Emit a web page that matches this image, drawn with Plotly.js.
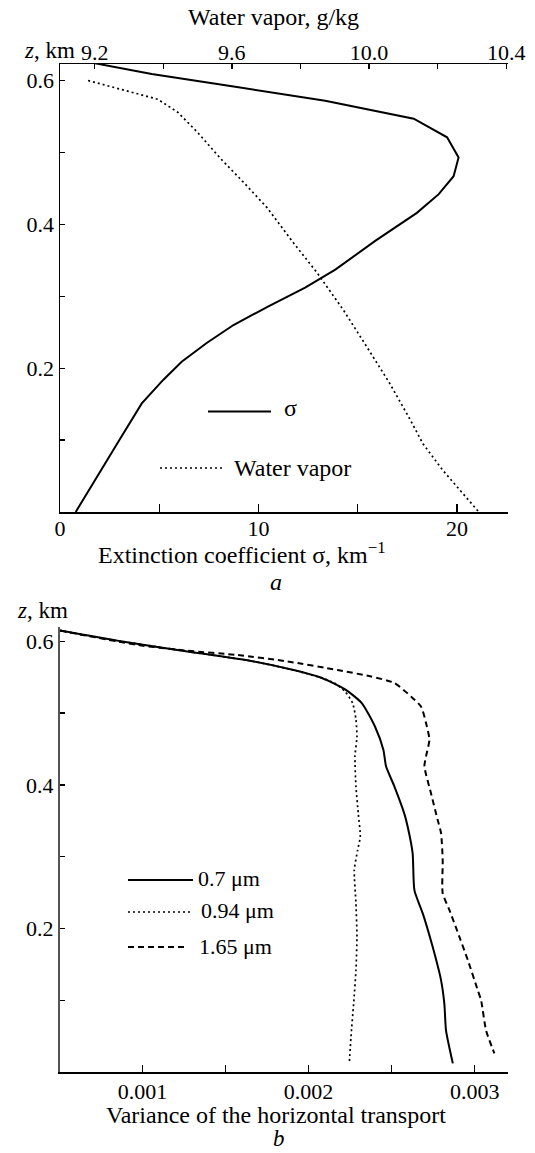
<!DOCTYPE html>
<html><head><meta charset="utf-8">
<script src="https://cdn.plot.ly/plotly-3.0.1.min.js"></script>
<style>html,body{margin:0;padding:0;background:#fff}</style>
</head><body><div id="chart" style="width:535px;height:1153px"></div>
<script>
// ---- panel a data ----
const sigmaVal = [0.79,1.93,3.03,4.12,5.21,6.13,7.39,8.74,10.50,12.35,13.87,15.88,17.98,19.08,19.83,20.08,19.50,17.82,13.36,8.91,6.13,4.62,1.2];
const sigmaZ   = [0,0.051,0.102,0.151,0.184,0.209,0.235,0.260,0.286,0.312,0.337,0.377,0.416,0.442,0.467,0.493,0.521,0.547,0.572,0.591,0.602,0.609,0.627];
const vaporVal = [9.181,9.278,9.384,9.442,9.50,9.568,9.635,9.703,9.78,9.848,9.925,9.993,10.06,10.118,10.157,10.215,10.273,10.32];
const vaporZ   = [0.6,0.588,0.574,0.556,0.528,0.491,0.458,0.423,0.374,0.333,0.281,0.230,0.179,0.130,0.095,0.058,0.026,0];
// ---- panel b data ----
const var07 = [0.000504,0.00087,0.00127,0.00167,0.00191,0.00208,0.00222,0.00232,0.0024,0.00245,0.002466,0.002516,0.002576,0.002596,0.002626,0.002637,0.002687,0.002747,0.002797,0.002817,0.002827,0.002868];
const z07   = [0.615,0.600,0.586,0.572,0.560,0.549,0.533,0.514,0.481,0.449,0.426,0.398,0.360,0.342,0.305,0.253,0.221,0.174,0.128,0.095,0.058,0.012];
const var094 = [0.000504,0.00087,0.00127,0.00167,0.00191,0.00208,0.002155,0.00222,0.002265,0.002285,0.002291,0.002279,0.002285,0.002299,0.002311,0.002295,0.002275,0.002285,0.002291,0.002285,0.002271,0.002255,0.002245];
const z094   = [0.615,0.600,0.586,0.572,0.560,0.549,0.542,0.530,0.514,0.491,0.467,0.440,0.398,0.360,0.328,0.309,0.281,0.235,0.188,0.142,0.095,0.049,0.012];
const var165 = [0.000504,0.00097,0.00127,0.001572,0.001873,0.002175,0.002376,0.002516,0.002617,0.002677,0.002707,0.002727,0.002707,0.002697,0.002737,0.002777,0.002797,0.002807,0.002807,0.002847,0.002908,0.002958,0.003018,0.003038,0.003068,0.003118];
const z165   = [0.615,0.595,0.587,0.581,0.572,0.560,0.551,0.542,0.523,0.509,0.486,0.463,0.440,0.426,0.388,0.351,0.333,0.295,0.249,0.226,0.188,0.156,0.114,0.100,0.058,0.026];
// ---- tick labels ----
const sigmaTicks = [0,10,20];
const vaporTicks = [9.2,9.6,10.0,10.4];
const vaporTickText = ['9.2','9.6','10.0','10.4'];
const zTicks = [0.2,0.4,0.6];
const zTickText = ['0.2','0.4','0.6'];
const varTicks = [0.001,0.002,0.003];
const varTickText = ['0.001','0.002','0.003'];
const legendA = ['σ','Water vapor'];
const legendB = ['0.7 μm','0.94 μm','1.65 μm'];

const FONT = "'Liberation Serif', 'Times New Roman', serif";
const W = 535, H = 1153;
const px = v => v / W;
const py = v => 1 - v / H;
const DOT = '2px,3px';
const DASH = '6px,4px';

const traces = [
  {x: sigmaVal, y: sigmaZ, xaxis:'x', yaxis:'y', mode:'lines', line:{color:'black', width:2}},
  {x: vaporVal, y: vaporZ, xaxis:'x2', yaxis:'y', mode:'lines', line:{color:'black', width:1.7, dash:DOT}},
  {x: var07, y: z07, xaxis:'x3', yaxis:'y3', mode:'lines', line:{color:'black', width:2, shape:'spline', smoothing:0.6}},
  {x: var094, y: z094, xaxis:'x3', yaxis:'y3', mode:'lines', line:{color:'black', width:1.7, dash:DOT, shape:'spline', smoothing:0.6}},
  {x: var165, y: z165, xaxis:'x3', yaxis:'y3', mode:'lines', line:{color:'black', width:2, dash:DASH, shape:'spline', smoothing:0.6}}
];

const tf = {family: FONT, size: 22, color: 'black'};
function ax(extra) {
  return Object.assign({
    showline: true, linecolor: 'black', linewidth: 1.5,
    showgrid: false, zeroline: false, ticks: 'inside', tickcolor: 'black', tickwidth: 1.3,
    tickfont: tf, tickmode: 'array', fixedrange: true
  }, extra);
}
const xdom = [px(60), px(508)];

const layout = {
  width: W, height: H, margin: {l:0, r:0, t:0, b:0},
  paper_bgcolor: 'white', plot_bgcolor: 'white', showlegend: false,
  font: {family: FONT, size: 22, color: 'black'},
  xaxis: ax({domain: xdom, anchor: 'y', range: [0, 22.57], tickvals: sigmaTicks, ticklen: 8,
    ticklabelstandoff: -4,
    minor: {tickmode:'array', tickvals: [5,15], ticks: 'inside', ticklen: 8, tickwidth: 1.3, tickcolor: 'black'}}),
  xaxis2: ax({overlaying: 'x', anchor: 'y', side: 'top', range: [9.099, 10.405], tickvals: vaporTicks, ticktext: vaporTickText, ticklen: 4.5,
    ticklabelstandoff: -6,
    minor: {tickmode:'array', tickvals: [9.4,9.8,10.2], ticks: 'inside', ticklen: 4.5, tickwidth: 1.3, tickcolor: 'black'}}),
  yaxis: ax({domain: [py(512), py(64)], anchor: 'x', range: [0, 0.623], tickvals: zTicks, ticktext: zTickText, ticklen: 4.5,
    minor: {tickmode:'array', tickvals: [0.1,0.3,0.5], ticks: 'inside', ticklen: 4.5, tickwidth: 1.3, tickcolor: 'black'}}),
  xaxis3: ax({domain: xdom, anchor: 'y3', range: [0.000504, 0.0032], tickvals: varTicks, ticktext: varTickText, ticklen: 7,
    ticklabelstandoff: -1,
    minor: {tickmode:'array', tickvals: [0.0015,0.0025], ticks: 'inside', ticklen: 7, tickwidth: 1.3, tickcolor: 'black'}}),
  yaxis3: ax({domain: [py(1072), py(627)], anchor: 'x3', range: [0, 0.62], tickvals: zTicks, ticktext: zTickText, ticklen: 4.5,
    linecolor: '#555', linewidth: 2,
    minor: {tickmode:'array', tickvals: [0.1,0.3,0.5], ticks: 'inside', ticklen: 4.5, tickwidth: 1.3, tickcolor: 'black'}}),
  shapes: [
    {type:'line', xref:'paper', yref:'paper', x0:px(208), x1:px(271), y0:py(411.5), y1:py(411.5), line:{color:'black', width:2}},
    {type:'line', xref:'paper', yref:'paper', x0:px(160), x1:px(222), y0:py(468), y1:py(468), line:{color:'black', width:1.7, dash:DOT}},
    {type:'line', xref:'paper', yref:'paper', x0:px(128), x1:px(193), y0:py(880), y1:py(880), line:{color:'black', width:2}},
    {type:'line', xref:'paper', yref:'paper', x0:px(128), x1:px(190), y0:py(912), y1:py(912), line:{color:'black', width:1.7, dash:DOT}},
    {type:'line', xref:'paper', yref:'paper', x0:px(128), x1:px(187), y0:py(947), y1:py(947), line:{color:'black', width:2, dash:DASH}}
  ],
  annotations: []
};

function ann(text, x, y, size, xanchor) {
  layout.annotations.push({text: text, xref:'paper', yref:'paper', x: px(x), y: py(y),
    xanchor: xanchor || 'center', yanchor: 'middle', showarrow: false,
    font: {family: FONT, size: size, color: 'black'}});
}
ann('Water vapor, g/kg', 273, 17, 24);
ann('<i>z</i>, km', 22, 51, 23, 'left');
ann('Extinction coefficient σ, km<sup>−1</sup>', 242, 553, 24);
ann('<i>a</i>', 276, 582, 24);
ann('<i>z</i>, km', 15, 610, 23, 'left');
ann('Variance of the horizontal transport', 276, 1115, 24);
ann('<i>b</i>', 279, 1138, 23);
ann(legendA[0], 282, 408, 24, 'left');
ann(legendA[1], 232, 468, 24, 'left');
ann(legendB[0], 196, 879, 22, 'left');
ann(legendB[1], 199, 910, 22, 'left');
ann(legendB[2], 197, 946, 22, 'left');

Plotly.newPlot('chart', traces, layout, {displayModeBar: false, staticPlot: true});
</script>
</body></html>
